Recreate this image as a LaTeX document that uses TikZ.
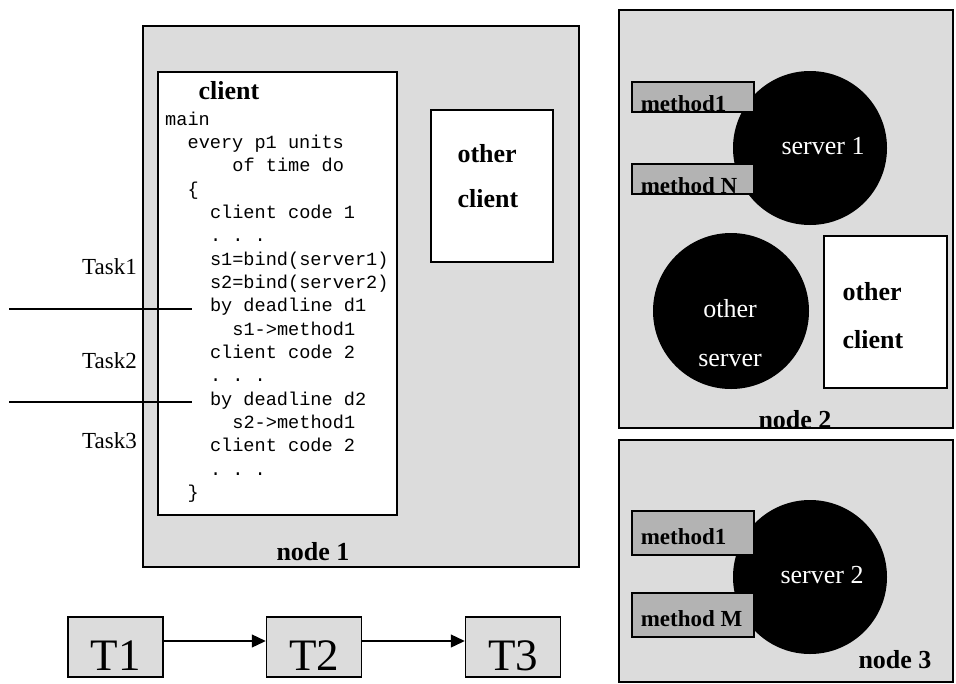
\documentclass[tikz,border=0pt]{standalone}
\usepackage{fontspec}
\setmainfont{Liberation Serif}
\setmonofont{Liberation Mono}
\usepackage{xcolor}
\usepackage{tikz}
\definecolor{hostgray}{RGB}{220, 220, 220}
\definecolor{methgray}{RGB}{179, 179, 179}
\usetikzlibrary{shapes, arrows.meta, positioning}

\begin{document}
\begin{tikzpicture}[
    x=1pt, y=-1pt,
    host/.style={rectangle, draw, line width=2pt, fill=hostgray},
    prog/.style={rectangle, draw, line width=2pt, fill=white},
    srv/.style={circle, fill=black, minimum size=154pt, inner sep=0pt},
    meth/.style={rectangle, draw, line width=1.6pt, fill=methgray, anchor=west, text width=104pt, inner xsep=9pt, inner ysep=1pt, align=flush left, font=\fontsize{23}{26}\selectfont\bfseries},
    lbl/.style={font=\fontsize{26}{45}\selectfont\bfseries},
    srvtext/.style={text=white, align=center, font=\fontsize{26}{49}\selectfont},
    code/.style={anchor=base west, inner sep=0pt, font=\ttfamily\fontsize{18.6}{22}\selectfont},
    task/.style={anchor=east, inner sep=0pt, font=\fontsize{23}{26}\selectfont},
    tbox/.style={rectangle, draw, line width=1.5pt, fill=hostgray, minimum width=95pt, text height=53pt, text depth=7pt, inner ysep=0pt, font=\fontsize{45}{50}\selectfont},
    arrow/.style={-{Triangle[length=14pt, width=13pt]}, line width=1.3pt}
]
    \useasboundingbox (0,0) rectangle (956,683);

    \node[host, minimum width=436pt, minimum height=541pt] (host1) at (361,296.5) {};
    \node[prog, minimum width=239pt, minimum height=443pt] (client) at (277.5,293.5) {};
    \node[prog, minimum width=122pt, minimum height=152pt] (oclient1) at (492,186) {};
    \node[lbl] (clienttitle) at (229,91) {client};
    \node[lbl, align=left, anchor=west] (oclient1txt) at (454,176) {other\\client};
    \foreach \ind/\txt [count=\i] in {0/main, 2/every p1 units, 6/of time do, 2/\{,
        4/client code 1, 4/. . ., 4/s1=bind(server1), 4/s2=bind(server2),
        4/by deadline d1, 6/s1->method1, 4/client code 2, 4/. . .,
        4/by deadline d2, 6/s2->method1, 4/client code 2, 4/. . ., 2/\}}
        \node[code] (line\i) at ({165+11.2*\ind}, {125+23.35*(\i-1)}) {\txt};
    \node[lbl] (host1lbl) at (313,552) {node 1};

    \node[host, minimum width=334pt, minimum height=418pt] (host2) at (786,219) {};
    \node[srv] (srv1) at (810,148) {};
    \node[meth, text height=28pt, text depth=0pt] (m11) at (631,97) {method1};
    \node[meth, text height=28pt, text depth=0pt] (m1n) at (631,179) {method N};
    \node[srvtext] (srv1txt) at (823,146) {server 1};
    \node[srv, minimum size=156pt] (osrv) at (731,311) {};
    \node[srvtext] (osrvtxt) at (730,333) {other\\server};
    \node[prog, minimum width=123pt, minimum height=152pt] (oclient2) at (885.5,312) {};
    \node[lbl, align=left, anchor=west, font=\fontsize{26}{48}\selectfont\bfseries] (oclient2txt) at (839,315.5) {other\\client};
    \node[lbl] (host2lbl) at (795,420) {node 2};

    \node[host, minimum width=334pt, minimum height=242pt] (host3) at (786,561) {};
    \node[srv] (srv2) at (810,577) {};
    \node[meth, text height=32pt, text depth=10pt] (m21) at (631,533) {method1};
    \node[meth, text height=32pt, text depth=10pt] (m2m) at (631,615) {method M};
    \node[srvtext] (srv2txt) at (822,575) {server 2};
    \node[lbl] (host3lbl) at (895,660) {node 3};

    \node[task] (task1) at (137,267) {Task1};
    \node[task] (task2) at (137,361) {Task2};
    \node[task] (task3) at (137,441) {Task3};
    \coordinate (d1a) at (9,309);
    \coordinate (d1b) at (192,309);
    \coordinate (d2a) at (9,402);
    \coordinate (d2b) at (192,402);
    \draw[line width=1.3pt] (d1a) -- (d1b);
    \draw[line width=1.3pt] (d2a) -- (d2b);

    \node[tbox] (t1) at (115.5,647) {T1};
    \node[tbox] (t2) at (314,647) {T2};
    \node[tbox] (t3) at (513,647) {T3};
    \draw[arrow] ([yshift=6pt]t1.east) -- ([yshift=6pt]t2.west);
    \draw[arrow] ([yshift=6pt]t2.east) -- ([yshift=6pt]t3.west);
\end{tikzpicture}
\end{document}
